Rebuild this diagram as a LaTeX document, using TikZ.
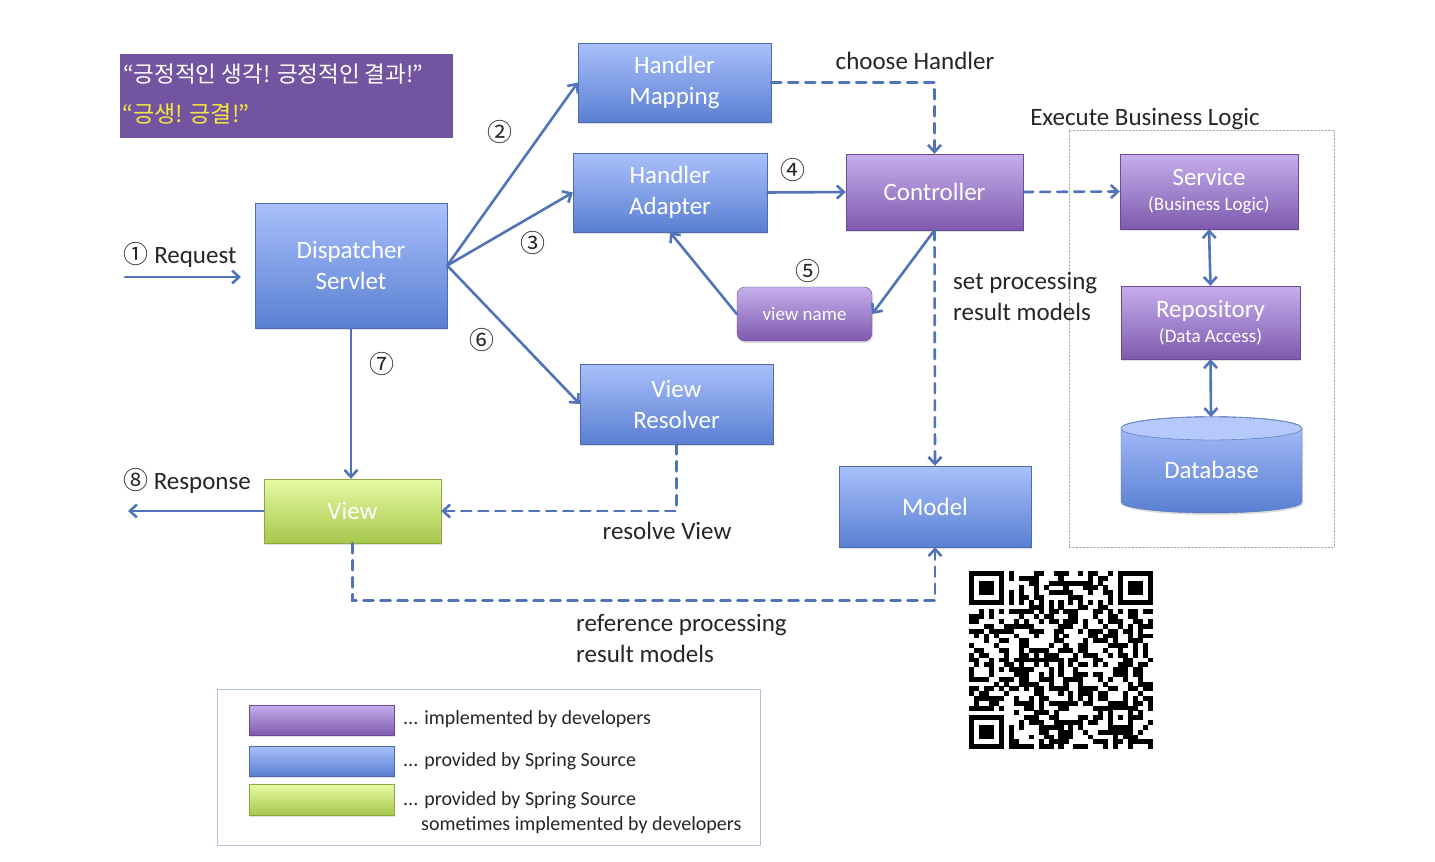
\documentclass[tikz,border=0pt]{standalone}
\usepackage{fontspec}
\setmainfont{Carlito}
\newfontfamily\krfont{Noto Sans CJK KR}
\usepackage{tikz}
\usetikzlibrary{arrows.meta}
\usetikzlibrary{shadows}
\definecolor{flowblue}{HTML}{5174B9}
\definecolor{bluetop}{HTML}{A9C0FB}
\definecolor{bluebot}{HTML}{5A7FD2}
\definecolor{purptop}{HTML}{C6AEEC}
\definecolor{purpbot}{HTML}{7E5AAE}
\definecolor{greentop}{HTML}{E8FAA4}
\definecolor{greenbot}{HTML}{A6C74C}
\definecolor{banner}{HTML}{7354A0}
\definecolor{mottoyellow}{HTML}{F6E83C}
\tikzset{>={Straight Barb[length=7pt,width=13pt]},
  flow/.style={draw=flowblue, line width=2.6pt, ->},
  flowdash/.style={flow, dash pattern=on 10pt off 7pt},
  box/.style={rectangle, inner sep=0pt, text=white, align=center,
    font=\fontsize{25}{31}\selectfont,
    drop shadow={shadow xshift=1pt, shadow yshift=-2pt, opacity=0.25}},
  springbox/.style={box, draw=bluebot!85!black, top color=bluetop, bottom color=bluebot},
  devbox/.style={box, draw=purpbot!85!black, top color=purptop, bottom color=purpbot},
  viewbox/.style={box, draw=greenbot!85!black, top color=greentop, bottom color=greenbot},
  lbl/.style={text=black!85, font=\fontsize{25}{31}\selectfont, inner sep=0pt},
  num/.style={text=black!85, font=\krfont\fontsize{25}{25}\selectfont, inner sep=0pt},
  legtext/.style={anchor=west, text=black!85, font=\fontsize{20}{24}\selectfont, inner sep=0pt}}

\begin{document}
\begin{tikzpicture}[x=1pt,y=-1pt,line cap=round]

  \useasboundingbox (0,0) rectangle (1435,862);
  \fill[white] (0,0) rectangle (1435,862);

  \node[fill=banner, minimum width=333pt, minimum height=84pt] (motto) at (286.5,96) {};
  \node[anchor=west, text=white, font=\krfont\fontsize{22.5}{22.5}\selectfont, inner sep=0pt] (motto1) at (123,74) {“긍정적인 생각! 긍정적인 결과!”};
  \node[anchor=west, text=mottoyellow, font=\krfont\fontsize{23}{23}\selectfont, inner sep=0pt] (motto2) at (122,114) {“긍생! 긍결!”};

  \node[draw=gray!70, dash pattern=on 1.5pt off 2pt, line width=1pt, minimum width=265pt, minimum height=417pt] (bizlogic) at (1201.5,338.5) {};

  \node[springbox, minimum width=193pt, minimum height=79pt] (hmap) at (674.5,82.5) {Handler\\Mapping};
  \node[springbox, minimum width=194pt, minimum height=79pt] (hadapt) at (670,192.5) {Handler\\Adapter};
  \node[devbox, minimum width=177pt, minimum height=76pt] (ctrl) at (934.5,192) {Controller};
  \node[springbox, minimum width=192pt, minimum height=125pt] (disp) at (351,265.5) {Dispatcher\\Servlet};
  \node[devbox, rounded corners=8pt, minimum width=135pt, minimum height=54pt, font=\fontsize{19}{23}\selectfont] (vname) at (804.5,314) {view name};
  \node[springbox, minimum width=193pt, minimum height=80pt] (vres) at (676.5,404) {View\\Resolver};
  \node[viewbox, minimum width=177pt, minimum height=64pt] (view) at (352.5,511) {View};
  \node[springbox, minimum width=192pt, minimum height=81pt] (model) at (935,506.5) {Model};

  \node[devbox, minimum width=178pt, minimum height=75pt] (serv) at (1209,191.5) {Service\\[-6pt]{\fontsize{19}{23}\selectfont(Business Logic)}};
  \node[devbox, minimum width=179pt, minimum height=73pt] (repo) at (1210.5,322.5) {Repository\\[-6pt]{\fontsize{19}{23}\selectfont(Data Access)}};

  % database cylinder
  \path[draw=bluebot!85!black, top color=bluetop, bottom color=bluebot,
    drop shadow={shadow xshift=1pt, shadow yshift=-2pt, opacity=0.25}]
    (1121,428) -- (1121,502) arc[start angle=180, end angle=0, x radius=90.5, y radius=11]
    -- (1302,428) arc[start angle=0, end angle=-180, x radius=90.5, y radius=11.5] -- cycle;
  \draw[draw=bluebot!85!black, fill=bluetop!85!white] (1211.5,428.5) ellipse[x radius=90.5, y radius=11.5];
  \node[text=white, font=\fontsize{25}{31}\selectfont, inner sep=0pt] (db) at (1211.5,470) {Database};
  \coordinate (dbtop) at (1211,417);

  \coordinate (reqstart) at (125,277);
  \coordinate (reqend) at (241,277);
  \coordinate (resend) at (128,511);

  \draw[flow] (reqstart) -- (reqend);
  \draw[flow] (view.west) -- (resend);
  \draw[flow] (disp.east) -- (hmap.west);
  \draw[flow] (disp.east) -- (hadapt.west);
  \draw[flow] (disp.east) -- (vres.west);
  \draw[flow] (hadapt.east) -- (ctrl.west);
  \draw[flow] (ctrl.south) -- (vname.east);
  \draw[flow] (vname.west) -- (hadapt.south);
  \draw[flow] (disp.south) -- (disp.south |- view.north);
  \draw[flow, <->] (serv.south) -- (repo.north);
  \draw[flow, <->] (repo.south) -- (dbtop);

  \draw[flowdash] (hmap.east) -- (hmap.east -| ctrl.north) -- (ctrl.north);
  \draw[flowdash] (ctrl.east) -- (serv.west);
  \draw[flowdash] (ctrl.south) -- (model.north);
  \draw[flowdash] (vres.south) -- (vres.south |- view.east) -- (view.east);
  \draw[flowdash] (view.south) -- ++(0,57) -| (model.south);

  \node[lbl] (req) at (180,255) {{\krfont ①} Request};
  \node[lbl] (resp) at (187,481) {{\krfont ⑧} Response};
  \node[lbl] (choose) at (915,61) {choose Handler};
  \node[lbl] (execute) at (1145,119) {Execute Business Logic};
  \node[lbl, anchor=west, align=left] (setres) at (953,296.5) {set processing\\result models};
  \node[lbl] (resolve) at (667,531) {resolve View};
  \node[lbl, anchor=west, align=left] (refres) at (576,638.5) {reference processing\\result models};

  \node[num] (n2) at (500,132) {②};
  \node[num] (n3) at (533,243) {③};
  \node[num] (n4) at (793,170) {④};
  \node[num] (n5) at (808,271) {⑤};
  \node[num] (n6) at (482,340) {⑥};
  \node[num] (n7) at (382,364) {⑦};

  % legend
  \node[draw=flowblue!45, line width=1pt, minimum width=543pt, minimum height=156pt] (legend) at (488.5,767) {};
  \node[devbox, minimum width=145pt, minimum height=30pt] (swdev) at (321.5,720) {};
  \node[springbox, minimum width=145pt, minimum height=30pt] (swspring) at (321.5,761) {};
  \node[viewbox, minimum width=145pt, minimum height=31pt] (swview) at (321.5,799.5) {};
  \node[legtext] (legdev) at (403,719) {... implemented by developers};
  \node[legtext] (legspring) at (403,761) {... provided by Spring Source};
  \node[legtext] (legview) at (403,800) {... provided by Spring Source};
  \node[legtext] (legview2) at (421,825) {sometimes implemented by developers};

  % qr code
  \begin{scope}[shift={(969,571)}, x=4.97pt, y=-4.81pt]
    \pgfmathsetseed{271}
    \foreach \r in {0,...,36}{
      \foreach \c in {0,...,36}{
        \pgfmathtruncatemacro\skipit{((\r<8)&&(\c<8))||((\r<8)&&(\c>28))||((\r>28)&&(\c<8))||((\r>27)&&(\r<33)&&(\c>27)&&(\c<33))}
        \ifnum\skipit=0
          \pgfmathtruncatemacro\dark{ifthenelse((\r==6)||(\c==6), mod(\r+\c+1,2), random(0,1))}
          \ifnum\dark=1 \fill (\c,\r) rectangle ++(1.02,1.02); \fi
        \fi
      }
    }
    \foreach \fx/\fy in {0/0,30/0,0/30}{
      \fill (\fx,\fy) rectangle ++(7,7);
      \fill[white] (\fx+1,\fy+1) rectangle ++(5,5);
      \fill (\fx+2,\fy+2) rectangle ++(3,3);
    }
    \fill (28,28) rectangle ++(5,5);
    \fill[white] (29,29) rectangle ++(3,3);
    \fill (30,30) rectangle ++(1,1);
  \end{scope}

\end{tikzpicture}
\end{document}
